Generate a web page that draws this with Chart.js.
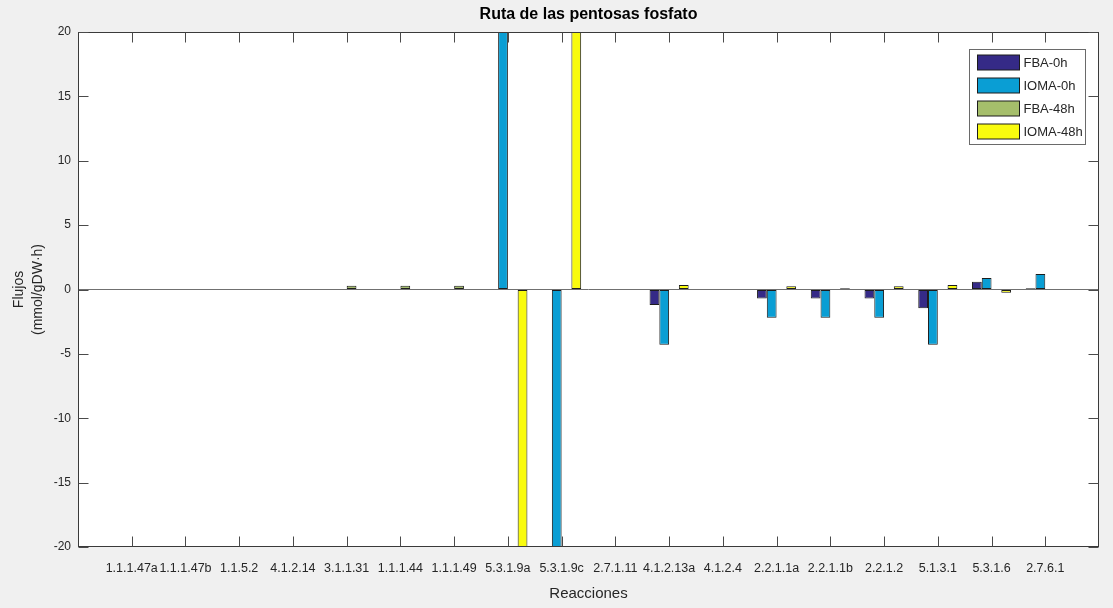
<!DOCTYPE html>
<html>
<head>
<meta charset="utf-8">
<script src="https://cdn.jsdelivr.net/npm/chart.js@4.4.1/dist/chart.umd.min.js"></script>
<style>
  html, body { margin: 0; padding: 0; background: #f0f0f0; }
  #wrap { width: 1113px; height: 608px; position: relative; }
  canvas { display: block; }
</style>
</head>
<body>
<div id="wrap"><canvas id="c" width="1113" height="608"></canvas></div>
<script>
// ---- Data ----
const categories = ['1.1.1.47a','1.1.1.47b','1.1.5.2','4.1.2.14','3.1.1.31','1.1.1.44','1.1.1.49',
  '5.3.1.9a','5.3.1.9c','2.7.1.11','4.1.2.13a','4.1.2.4','2.2.1.1a','2.2.1.1b','2.2.1.2',
  '5.1.3.1','5.3.1.6','2.7.6.1'];
const seriesNames = ['FBA-0h', 'IOMA-0h', 'FBA-48h', 'IOMA-48h'];
const fba0h  = [0, 0, 0, 0, 0,   0,   0,   0,   0,  0, -1.2, 0, -0.7, -0.7, -0.7, -1.45, 0.6, 0.1];
const ioma0h = [0, 0, 0, 0, 0,   0,   0,  20, -20,  0, -4.3, 0, -2.2, -2.2, -2.2, -4.3,  0.9, 1.2];
const fba48h = [0, 0, 0, 0, 0.3, 0.3, 0.3, 0,   0,  0,  0,   0,  0,    0,    0,    0,    0,   0];
const ioma48h= [0, 0, 0, 0, 0,   0,   0, -20,  20,  0,  0.35, 0, 0.25, 0.1,  0.25, 0.35, -0.25, 0];
const yTickValues = [-20, -15, -10, -5, 0, 5, 10, 15, 20];
const titleText = 'Ruta de las pentosas fosfato';
const xTitle = 'Reacciones';
const yTitle = ['Flujos', '(mmol/gDW·h)'];

const seriesValues = [fba0h, ioma0h, fba48h, ioma48h];
const seriesColors = ['#352a87', '#0a9ed4', '#a5be6b', '#f9fb0e'];

Chart.defaults.font.family = "'Liberation Sans', Arial, Helvetica, sans-serif";
Chart.defaults.color = '#262626';

const datasets = seriesNames.map((name, s) => ({
  label: name,
  data: seriesValues[s].map((v, i) => ({ x: i + 1, y: v })),
  backgroundColor: seriesColors[s],
  borderColor: '#1c1c1c',
  borderWidth: 1,
  borderSkipped: false,
  categoryPercentage: 0.727,
  barPercentage: 1.0
}));

const framePlugin = {
  id: 'framePlugin',
  afterLayout(chart) {
    const t = chart.titleBlock, a = chart.chartArea;
    if (t && a) { t.left = a.left; t.right = a.right; }
  },
  beforeDraw(chart) {
    const { ctx, chartArea: a } = chart;
    ctx.save();
    ctx.fillStyle = '#f0f0f0';
    ctx.fillRect(0, 0, chart.width, chart.height);
    ctx.fillStyle = '#ffffff';
    ctx.fillRect(a.left, a.top, a.right - a.left, a.bottom - a.top);
    ctx.restore();
  },
  afterDraw(chart) {
    const { ctx, chartArea: a, scales } = chart;
    const L = Math.round(a.left) + 0.5, R = Math.round(a.right) - 0.5;
    const T = Math.round(a.top) + 0.5, B = Math.round(a.bottom) - 0.5;
    ctx.save();
    ctx.strokeStyle = '#3a3a3a';
    ctx.lineWidth = 1;
    ctx.strokeRect(L, T, R - L, B - T);
    // inward tick marks
    ctx.strokeStyle = '#4a4a4a';
    ctx.beginPath();
    categories.forEach((c, i) => {
      const px = Math.round(scales.x.getPixelForValue(i + 1)) + 0.5;
      ctx.moveTo(px, T); ctx.lineTo(px, T + 10);
      ctx.moveTo(px, B); ctx.lineTo(px, B - 10);
    });
    yTickValues.forEach(v => {
      const py = Math.round(scales.y.getPixelForValue(v)) + 0.5;
      ctx.moveTo(L, py); ctx.lineTo(L + 10, py);
      ctx.moveTo(R, py); ctx.lineTo(R - 10, py);
    });
    ctx.stroke();
    // legend
    const lx = Math.round(a.right) - 130 + 0.5, ly = Math.round(a.top) + 17 + 0.5;
    const lw = 116, lh = 95;
    ctx.fillStyle = '#ffffff';
    ctx.fillRect(lx, ly, lw, lh);
    ctx.strokeStyle = '#6a6a6a';
    ctx.strokeRect(lx, ly, lw, lh);
    ctx.font = "13px 'Liberation Sans', Arial, sans-serif";
    ctx.textBaseline = 'middle';
    ctx.textAlign = 'left';
    chart.data.datasets.forEach((ds, i) => {
      const cy = ly + 13 + 23 * i;
      ctx.fillStyle = ds.backgroundColor;
      ctx.fillRect(lx + 8, Math.round(cy - 7.5), 42, 15);
      ctx.strokeStyle = '#1c1c1c';
      ctx.strokeRect(lx + 8, Math.round(cy - 7.5), 42, 15);
      ctx.fillStyle = '#262626';
      ctx.fillText(ds.label, lx + 54, cy + 1);
    });
    ctx.restore();
  }
};

new Chart(document.getElementById('c'), {
  type: 'bar',
  data: { datasets },
  options: {
    responsive: false,
    animation: false,
    devicePixelRatio: 1,
    layout: { padding: { left: 0, right: 12, top: 0, bottom: 0 } },
    plugins: {
      legend: { display: false },
      tooltip: { enabled: false },
      title: {
        display: true,
        text: titleText,
        color: '#000000',
        font: { size: 16, weight: 'bold', lineHeight: 1.2 },
        padding: { top: 5, bottom: 7.8 }
      }
    },
    scales: {
      x: {
        type: 'linear',
        min: 0,
        max: 19,
        offset: false,
        grid: { display: false, drawTicks: false },
        border: { display: false },
        ticks: {
          stepSize: 1,
          autoSkip: false,
          maxRotation: 0,
          minRotation: 0,
          padding: 14,
          color: '#262626',
          font: { size: 12.5 },
          callback: (v) => categories[v - 1] || ''
        },
        title: {
          display: true,
          text: xTitle,
          color: '#262626',
          font: { size: 15, lineHeight: 1.2 },
          padding: { top: 0, bottom: 5 }
        },
        afterFit: (s) => { s.height = 61; }
      },
      y: {
        min: -20,
        max: 20,
        grid: {
          drawTicks: false,
          lineWidth: 1,
          color: (c) => (c.tick && c.tick.value === 0) ? '#707070' : 'rgba(0,0,0,0)'
        },
        border: { display: false },
        ticks: {
          stepSize: 5,
          padding: 7,
          color: '#262626',
          font: { size: 12 }
        },
        title: {
          display: true,
          text: yTitle,
          color: '#262626',
          font: { size: 14, lineHeight: 1.4 },
          padding: { top: 9, bottom: 0 }
        },
        afterFit: (s) => { s.width = 78; }
      }
    }
  },
  plugins: [framePlugin]
});
</script>
</body>
</html>
